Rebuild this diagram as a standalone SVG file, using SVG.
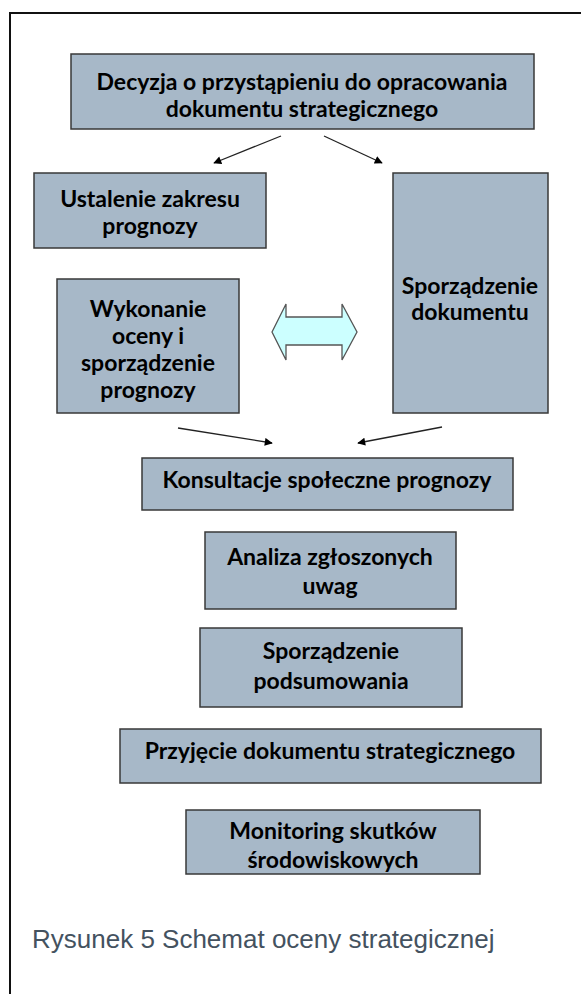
<svg xmlns="http://www.w3.org/2000/svg" width="581" height="994" viewBox="0 0 581 994">
<defs>
<style>
.box{fill:#a7b8c8;stroke:#383838;stroke-width:1.5}
.t{font-family:Lato,"Open Sans","Liberation Sans",sans-serif;font-weight:700;font-size:23px;fill:#000;text-anchor:middle}
.ln{stroke:#222;stroke-width:1.3;fill:none;marker-end:url(#ah)}
.cap{font-family:"Liberation Sans",Arial,sans-serif;font-size:26px;fill:#44525f}
</style>
<marker id="ah" viewBox="0 0 10 10" refX="9" refY="5" markerWidth="9" markerHeight="8" markerUnits="userSpaceOnUse" orient="auto">
<path d="M0,0 L10,5 L0,10 Z" fill="#000"/>
</marker>
</defs>
<rect width="581" height="994" fill="#fff"/>
<path d="M10,994 V13 H581" fill="none" stroke="#111" stroke-width="2"/>
<g id="n1"><rect class="box" x="71" y="54" width="463" height="75"/>
<text class="t" x="302" y="90">Decyzja o przystąpieniu do opracowania</text>
<text class="t" x="302" y="117">dokumentu strategicznego</text></g>
<g id="n2"><rect class="box" x="34" y="173" width="232" height="75"/>
<text class="t" x="150" y="207">Ustalenie zakresu</text>
<text class="t" x="150" y="234">prognozy</text></g>
<g id="n3"><rect class="box" x="393" y="173" width="155" height="240"/>
<text class="t" x="470" y="294">Sporządzenie</text>
<text class="t" x="470" y="320">dokumentu</text></g>
<g id="n4"><rect class="box" x="57" y="279" width="182" height="134"/>
<text class="t" x="148" y="317">Wykonanie</text>
<text class="t" x="148" y="344">oceny i</text>
<text class="t" x="148" y="371">sporządzenie</text>
<text class="t" x="148" y="398">prognozy</text></g>
<g id="dbl"><path d="M272,332 L286,304 L286,317 L342,317 L342,304 L357,332 L342,360 L342,345 L286,345 L286,360 Z" fill="#ccffff" stroke="#555" stroke-width="1.3"/></g>
<g id="n5"><rect class="box" x="142" y="458" width="371" height="52"/>
<text class="t" x="327" y="488">Konsultacje społeczne prognozy</text></g>
<g id="n6"><rect class="box" x="205" y="532" width="251" height="77"/>
<text class="t" x="330" y="565">Analiza zgłoszonych</text>
<text class="t" x="330" y="594">uwag</text></g>
<g id="n7"><rect class="box" x="200" y="628" width="262" height="79"/>
<text class="t" x="331" y="659">Sporządzenie</text>
<text class="t" x="331" y="689">podsumowania</text></g>
<g id="n8"><rect class="box" x="120" y="729" width="421" height="54"/>
<text class="t" x="330" y="759">Przyjęcie dokumentu strategicznego</text></g>
<g id="n9"><rect class="box" x="186" y="810" width="294" height="64"/>
<text class="t" x="333" y="839">Monitoring skutków</text>
<text class="t" x="333" y="868">środowiskowych</text></g>
<g id="connectors">
<line class="ln" x1="281" y1="136" x2="214" y2="163"/>
<line class="ln" x1="324" y1="136" x2="382" y2="163"/>
<line class="ln" x1="178" y1="428" x2="272" y2="443"/>
<line class="ln" x1="442" y1="427" x2="358" y2="443"/>
</g>
<text class="cap" x="32" y="948">Rysunek 5 Schemat oceny strategicznej</text>
</svg>
